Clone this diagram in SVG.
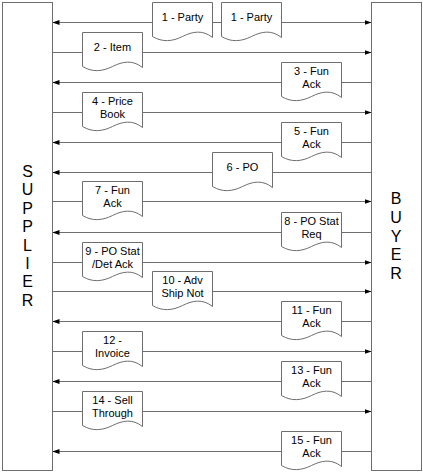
<svg xmlns="http://www.w3.org/2000/svg" xmlns:xlink="http://www.w3.org/1999/xlink" width="423" height="473" viewBox="0 0 423 473">
<style>
.box{fill:#fff;stroke:#6e6e6e;stroke-width:1}
.doc{fill:#fff;stroke:#6e6e6e;stroke-width:1}
.ln{stroke:#6e6e6e;stroke-width:1;fill:none;marker-end:url(#ah)}
.ln2{stroke:#6e6e6e;stroke-width:1;fill:none;marker-start:url(#ah);marker-end:url(#ah)}
.t{font-family:"Liberation Sans",Arial,sans-serif;font-size:11px;fill:#000;text-anchor:middle}
.big{font-family:"Liberation Sans",Arial,sans-serif;font-size:16px;fill:#000;text-anchor:middle}
</style>
<defs>
<marker id="ah" viewBox="0 0 7 5" refX="7" refY="2.5" markerWidth="7" markerHeight="5" markerUnits="userSpaceOnUse" orient="auto-start-reverse">
<path d="M0,0 L7,2.5 L0,5 Z" fill="#000"/>
</marker>
<path id="docshape" d="M0,0 H60 V35 C50,27 40,29 30,34 C20,39 10,40 0,34 Z"/>
</defs>

<g id="connectors">
<line class="ln2" x1="52.5" y1="22.5" x2="371.5" y2="22.5"/>
<line class="ln" x1="52.5" y1="52.5" x2="371.5" y2="52.5"/>
<line class="ln" x1="371.5" y1="82.5" x2="52.5" y2="82.5"/>
<line class="ln" x1="52.5" y1="112.5" x2="371.5" y2="112.5"/>
<line class="ln" x1="371.5" y1="142.5" x2="52.5" y2="142.5"/>
<line class="ln" x1="371.5" y1="172.5" x2="52.5" y2="172.5"/>
<line class="ln" x1="52.5" y1="201.5" x2="371.5" y2="201.5"/>
<line class="ln" x1="371.5" y1="232.5" x2="52.5" y2="232.5"/>
<line class="ln" x1="52.5" y1="262.5" x2="371.5" y2="262.5"/>
<line class="ln" x1="52.5" y1="291.5" x2="371.5" y2="291.5"/>
<line class="ln" x1="371.5" y1="321.5" x2="52.5" y2="321.5"/>
<line class="ln" x1="52.5" y1="351.5" x2="371.5" y2="351.5"/>
<line class="ln" x1="371.5" y1="381.5" x2="52.5" y2="381.5"/>
<line class="ln" x1="52.5" y1="411.5" x2="371.5" y2="411.5"/>
<line class="ln" x1="371.5" y1="451.5" x2="52.5" y2="451.5"/>
</g>

<g id="supplier">
<rect class="box" x="2.5" y="2.5" width="50" height="468"/>
<text class="big" x="27.5" y="177">S</text>
<text class="big" x="27.5" y="195.4">U</text>
<text class="big" x="27.5" y="213.8">P</text>
<text class="big" x="27.5" y="232.2">P</text>
<text class="big" x="27.5" y="250.6">L</text>
<text class="big" x="27.5" y="269">I</text>
<text class="big" x="27.5" y="287.4">E</text>
<text class="big" x="27.5" y="305.8">R</text>
</g>

<g id="buyer">
<rect class="box" x="371.5" y="2.5" width="50" height="468"/>
<text class="big" x="396" y="204.3">B</text>
<text class="big" x="396" y="223">U</text>
<text class="big" x="396" y="241.7">Y</text>
<text class="big" x="396" y="260.4">E</text>
<text class="big" x="396" y="279.1">R</text>
</g>

<g id="doc1a"><use xlink:href="#docshape" class="doc" x="152.5" y="2.5"/><text class="t" x="182.5" y="21">1 - Party</text></g>
<g id="doc1b"><use xlink:href="#docshape" class="doc" x="221.5" y="2.5"/><text class="t" x="251.5" y="21">1 - Party</text></g>
<g id="doc2"><use xlink:href="#docshape" class="doc" x="82.5" y="32.5"/><text class="t" x="112.5" y="51">2 - Item</text></g>
<g id="doc3"><use xlink:href="#docshape" class="doc" x="281.5" y="62.5"/><text class="t" x="311.5" y="74.5">3 - Fun</text><text class="t" x="311.5" y="87.5">Ack</text></g>
<g id="doc4"><use xlink:href="#docshape" class="doc" x="82.5" y="92.5"/><text class="t" x="112.5" y="104.5">4 - Price</text><text class="t" x="112.5" y="117.5">Book</text></g>
<g id="doc5"><use xlink:href="#docshape" class="doc" x="281.5" y="122.5"/><text class="t" x="311.5" y="134.5">5 - Fun</text><text class="t" x="311.5" y="147.5">Ack</text></g>
<g id="doc6"><use xlink:href="#docshape" class="doc" x="212.5" y="152.5"/><text class="t" x="242.5" y="171">6 - PO</text></g>
<g id="doc7"><use xlink:href="#docshape" class="doc" x="82.5" y="181.5"/><text class="t" x="112.5" y="193.5">7 - Fun</text><text class="t" x="112.5" y="206.5">Ack</text></g>
<g id="doc8"><use xlink:href="#docshape" class="doc" x="281.5" y="212.5"/><text class="t" x="311.5" y="224.5">8 - PO Stat</text><text class="t" x="311.5" y="237.5">Req</text></g>
<g id="doc9"><use xlink:href="#docshape" class="doc" x="82.5" y="242.5"/><text class="t" x="112.5" y="254.5">9 - PO Stat</text><text class="t" x="112.5" y="267.5">/Det Ack</text></g>
<g id="doc10"><use xlink:href="#docshape" class="doc" x="152.5" y="271.5"/><text class="t" x="182.5" y="283.5">10 - Adv</text><text class="t" x="182.5" y="296.5">Ship Not</text></g>
<g id="doc11"><use xlink:href="#docshape" class="doc" x="281.5" y="301.5"/><text class="t" x="311.5" y="313.5">11 - Fun</text><text class="t" x="311.5" y="326.5">Ack</text></g>
<g id="doc12"><use xlink:href="#docshape" class="doc" x="82.5" y="331.5"/><text class="t" x="112.5" y="343.5">12 -</text><text class="t" x="112.5" y="356.5">Invoice</text></g>
<g id="doc13"><use xlink:href="#docshape" class="doc" x="281.5" y="361.5"/><text class="t" x="311.5" y="373.5">13 - Fun</text><text class="t" x="311.5" y="386.5">Ack</text></g>
<g id="doc14"><use xlink:href="#docshape" class="doc" x="82.5" y="391.5"/><text class="t" x="112.5" y="403.5">14 - Sell</text><text class="t" x="112.5" y="416.5">Through</text></g>
<g id="doc15"><use xlink:href="#docshape" class="doc" x="281.5" y="431.5"/><text class="t" x="311.5" y="443.5">15 - Fun</text><text class="t" x="311.5" y="456.5">Ack</text></g>
</svg>
